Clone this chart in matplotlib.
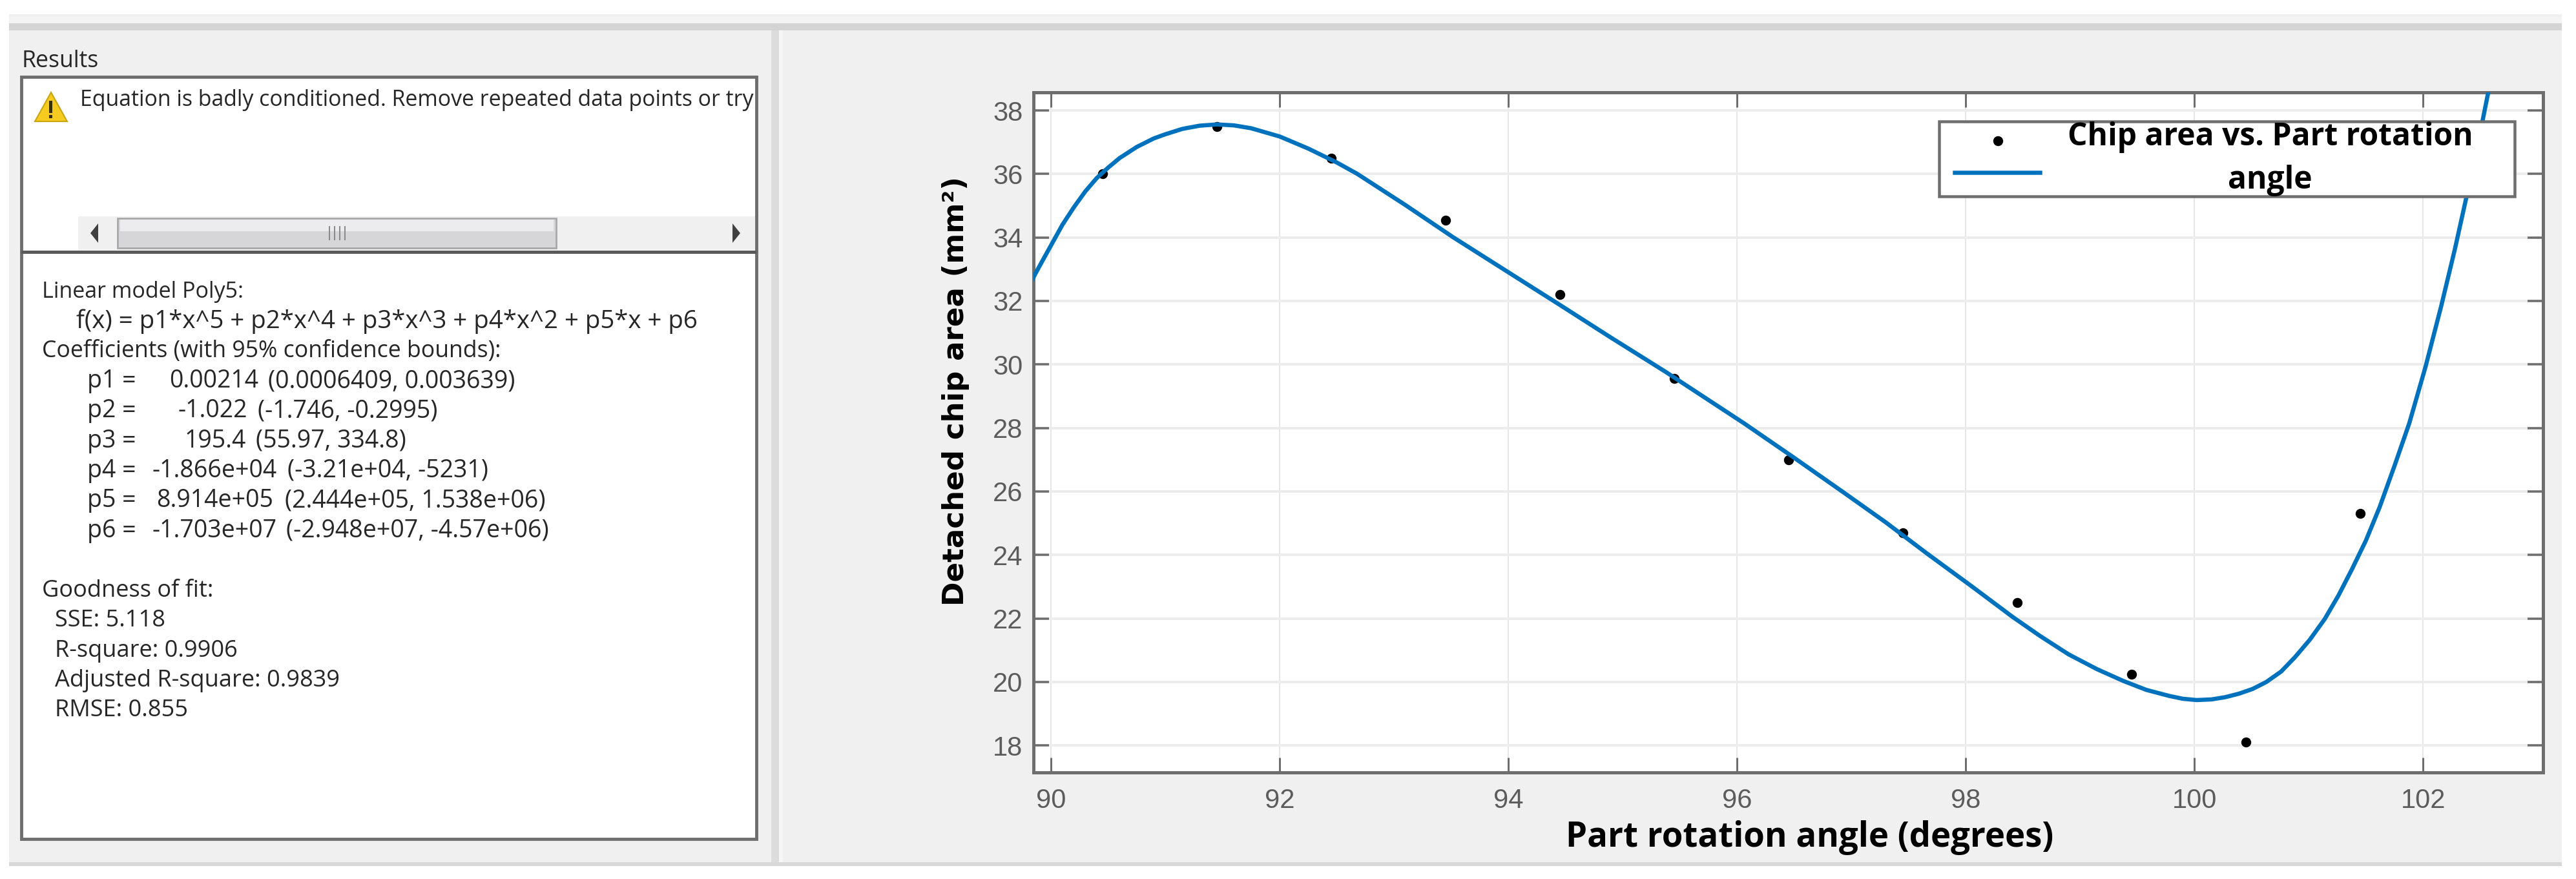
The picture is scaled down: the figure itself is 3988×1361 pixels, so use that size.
import matplotlib
matplotlib.use("Agg")
import matplotlib.pyplot as plt
from matplotlib.patches import Rectangle, Polygon
from matplotlib.lines import Line2D
from matplotlib.legend_handler import HandlerBase

# ---------- data ----------
point_x = [90.45, 91.45, 92.45, 93.45, 94.45, 95.45, 96.45, 97.45, 98.45, 99.45, 100.45, 101.45]
point_y = [36.0, 37.5, 36.5, 34.55, 32.2, 29.55, 27.0, 24.7, 22.5, 20.25, 18.1, 25.3]
fit_x = [89.84, 89.9, 90.0, 90.1, 90.2, 90.3, 90.4, 90.5, 90.6, 90.75, 90.9, 91.0, 91.15, 91.3, 91.45,
         91.6, 91.75, 92.0, 92.25, 92.5, 92.68, 93.1, 93.52, 93.98, 94.44, 94.9, 95.37, 95.7, 96.06,
         96.5, 96.92, 97.3, 97.66, 98.05, 98.41, 98.65, 98.9, 99.15, 99.38, 99.58, 99.78, 99.9, 100.02,
         100.15, 100.27, 100.39, 100.51, 100.63, 100.76, 100.88, 101.01, 101.14, 101.26, 101.38, 101.5,
         101.62, 101.75, 101.88, 102.02, 102.16, 102.28, 102.4, 102.5, 102.6]
fit_y = [32.7, 33.1, 33.75, 34.4, 34.95, 35.45, 35.87, 36.2, 36.5, 36.85, 37.12, 37.25, 37.42, 37.52, 37.56,
         37.53, 37.44, 37.18, 36.8, 36.36, 36.0, 35.02, 34.0, 32.95, 31.9, 30.84, 29.78, 29.0, 28.15,
         27.06, 26.0, 25.03, 24.05, 23.02, 22.05, 21.45, 20.87, 20.4, 20.03, 19.75, 19.56, 19.47, 19.43,
         19.45, 19.52, 19.63, 19.78, 20.0, 20.33, 20.78, 21.33, 21.98, 22.72, 23.56, 24.45,
         25.5, 26.8, 28.15, 29.9, 31.85, 33.65, 35.6, 37.3, 39.1]
x_ticks = [90, 92, 94, 96, 98, 100, 102]
y_ticks = [18, 20, 22, 24, 26, 28, 30, 32, 34, 36, 38]
x_label = "Part rotation angle (degrees)"
y_label = "Detached chip area (mm²)"
legend_label = "Chip area vs. Part rotation\nangle"

results_title = "Results"
warning_text = "Equation is badly conditioned. Remove repeated data points or try"
model_lines = ["Linear model Poly5:", "f(x) = p1*x^5 + p2*x^4 + p3*x^3 + p4*x^2 + p5*x + p6",
               "Coefficients (with 95% confidence bounds):"]
model_sizes = [24.5, 27.6, 25.7]
coef_names = ["p1 =", "p2 =", "p3 =", "p4 =", "p5 =", "p6 ="]
coef_values = ["0.00214", "-1.022", "195.4", "-1.866e+04", "8.914e+05", "-1.703e+07"]
coef_bounds = ["(0.0006409, 0.003639)", "(-1.746, -0.2995)", "(55.97, 334.8)",
               "(-3.21e+04, -5231)", "(2.444e+05, 1.538e+06)", "(-2.948e+07, -4.57e+06)"]
coef_value_px = [262, 275, 286, 235, 242, 235]
coef_bound_px = [415, 399, 396, 445, 441, 443]
fit_lines = ["Goodness of fit:", "SSE: 5.118", "R-square: 0.9906", "Adjusted R-square: 0.9839", "RMSE: 0.855"]

# ---------- layout ----------
W, H = 3988, 1361
PT = 0.72
ui_font = ["Open Sans"]
fig = plt.figure(figsize=(W / 100, H / 100), dpi=100, facecolor="white")
bg = fig.add_axes([0, 0, 1, 1], zorder=0)
bg.set_xlim(0, W)
bg.set_ylim(H, 0)
bg.axis("off")

def rect(x0, y0, x1, y1, fc, ec="none", lw=0, z=1):
    p = Rectangle((x0, y0), x1 - x0, y1 - y0, facecolor=fc, edgecolor=ec, linewidth=lw, zorder=z)
    bg.add_patch(p)
    return p

# window chrome
rect(14, 22, 3966, 1341, "#f0f0f0")
rect(14, 26, 3966, 36, "#f4f4f4", z=1.1)
rect(14, 36, 3966, 47, "#d4d4d4", z=1.1)
rect(14, 1335, 3966, 1341, "#d8d8d8", z=1.1)
rect(1194, 47, 1206, 1335, "#dcdcdc", z=1.1)
rect(1206, 47, 1212, 1335, "#f6f6f6", z=1.1)

# results boxes
box1 = rect(33, 119, 1171, 390, "white", "#6e6e6e", 3.5, z=2)
rect(33, 390, 1171, 1299, "white", "#6e6e6e", 3.5, z=2)
rect(121, 335, 1169, 387, "#f0f0f0", z=2.1)
rect(182, 338, 861, 384, "#d6d6d8", "#a8a8a8", 2, z=2.2)
rect(186, 340, 857, 358, "#ececee", z=2.3)
for gx in (510, 518, 526, 534):
    rect(gx - 1, 350, gx + 1, 372, "#8a8a8a", z=2.4)
bg.add_patch(Polygon([[152, 346], [152, 376], [140, 361]], fc="#404040", ec="none", zorder=2.4))
bg.add_patch(Polygon([[1134, 346], [1134, 376], [1146, 361]], fc="#404040", ec="none", zorder=2.4))
rect(33, 388, 1171, 393, "#5a5a5a", z=2.5)

# warning icon
bg.add_patch(Polygon([[79, 143], [104, 188], [54, 188]], fc="#f5cb1f", ec="#c9a514", lw=1.5, zorder=3))
rect(76, 156, 81, 175, "#3a3000", z=3.1)
rect(76, 178, 81, 183, "#3a3000", z=3.1)

def ui(x, y, s, size=27, **kw):
    return bg.text(x, y, s, fontsize=size, family=ui_font, color="#262626", va="center", ha="left", zorder=4, **kw)

ui(33, 95, results_title, size=25.7)
t = ui(124, 155, warning_text, size=24.4, clip_on=True)
t.set_clip_path(box1)

ui(65, 452, model_lines[0], size=model_sizes[0])
ui(118, 498, model_lines[1], size=model_sizes[1])
ui(65, 544, model_lines[2], size=model_sizes[2])
for i in range(6):
    y = 590 + i * 46.3
    ui(135, y, coef_names[i])
    ui(coef_value_px[i], y, coef_values[i])
    ui(coef_bound_px[i], y, coef_bounds[i])
for i, s in enumerate(fit_lines):
    ui(65 if i == 0 else 85, 915 + i * 46.3, s, size=26)

# ---------- chart ----------
ax_l, ax_r, ax_t, ax_b = 1600, 3937, 143, 1196
ax = fig.add_axes([ax_l / W, 1 - ax_b / H, (ax_r - ax_l) / W, (ax_b - ax_t) / H], zorder=2)
ax.set_facecolor("white")
pts, = ax.plot(point_x, point_y, "o", color="black", ms=14 * PT, zorder=3)
fit, = ax.plot(fit_x, fit_y, "-", color="#0072BD", lw=6.5 * PT, zorder=4, solid_joinstyle="round")
ax.set_xlim(89.847, 103.05)
ax.set_ylim(17.15, 38.57)
ax.set_xticks(x_ticks)
ax.set_yticks(y_ticks)
ax.grid(axis="y", color="#ececec", lw=4 * PT, zorder=0)
ax.grid(axis="x", color="#e6e6e6", lw=2 * PT, zorder=0)
ax.set_axisbelow(True)
ax.tick_params(axis="x", direction="in", top=True, bottom=True, length=23 * PT, width=3 * PT,
               color="#6e6e6e", labelsize=30, labelcolor="#5c5c5c", pad=17)
ax.tick_params(axis="y", direction="in", left=True, right=True, length=24 * PT, width=3.5 * PT,
               color="#6e6e6e", labelsize=30, labelcolor="#5c5c5c", pad=12)
for lab in ax.get_xticklabels() + ax.get_yticklabels():
    lab.set_family(["Liberation Sans"])
for s in ax.spines.values():
    s.set_color("#6e6e6e")
    s.set_linewidth(5 * PT)

bg.text(2802, 1297, x_label, fontsize=38, fontweight="bold", family=ui_font, color="black",
        ha="center", va="center", zorder=4)
bg.text(1479, 606, y_label, fontsize=32.5, fontweight="bold", family="DejaVu Sans", color="black",
        rotation=90, ha="center", va="center", zorder=4)

class MarkerOverLine(HandlerBase):
    def create_artists(self, legend, orig_handle, xd, yd, width, height, fontsize, trans):
        m = Line2D([width * 0.467], [height * 0.65], marker="o", color="black", ms=14 * PT, ls="none")
        l = Line2D([width * 0.123, width * 0.80], [height * -0.03, height * -0.03], color="#0072BD", lw=6.5 * PT)
        m.set_transform(trans)
        l.set_transform(trans)
        return [m, l]

lx0, ly0, lx1, ly1 = 3002, 188, 3893, 303
anchor = ((lx0 - ax_l) / (ax_r - ax_l), 1 - (ly1 - ax_t) / (ax_b - ax_t),
          (lx1 - lx0) / (ax_r - ax_l), (ly1 - ly0) / (ax_b - ax_t))
leg = ax.legend([(pts, fit)], [legend_label], handler_map={tuple: MarkerOverLine()},
                loc="upper left", bbox_to_anchor=anchor, mode="expand",
                frameon=True, fancybox=False, framealpha=1, edgecolor="#6e6e6e",
                prop={"family": ui_font, "weight": "bold", "size": 34.6},
                handlelength=4.06, handleheight=1.9, handletextpad=0.08, borderpad=0.0, borderaxespad=0)
leg.get_frame().set_linewidth(4.5 * PT)
for t in leg.get_texts():
    t.set_multialignment("center")
    t.set_linespacing(1.49)
leg.set_zorder(6)

fig.savefig("out.png", dpi=100, facecolor="white")
